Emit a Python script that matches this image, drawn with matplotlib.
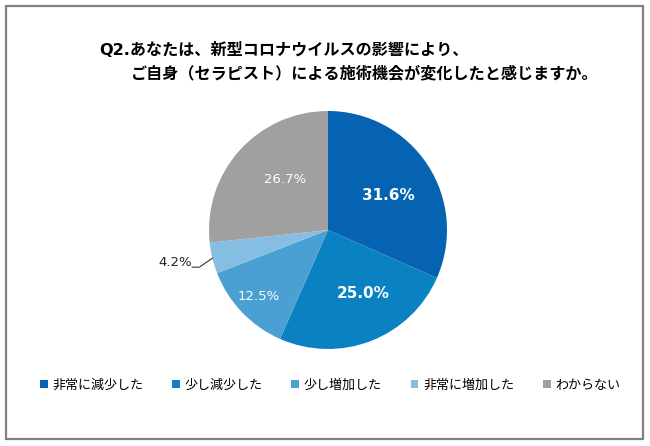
import numpy as np
import matplotlib.pyplot as plt
from matplotlib.patches import Rectangle

plt.rcParams['font.family'] = ['DejaVu Sans', 'Noto Sans CJK JP']

# data
categories = ['非常に減少した', '少し減少した', '少し増加した', '非常に増加した', 'わからない']
values = [31.6, 25.0, 12.5, 4.2, 26.7]
colors = ['#0563b2', '#0a82c2', '#4a9fd3', '#86bee3', '#a0a0a0']
title1 = 'Q2.あなたは、新型コロナウイルスの影響により、'
title2 = 'ご自身（セラピスト）による施術機会が変化したと感じますか。'

W, H = 650, 446
fig = plt.figure(figsize=(6.5, 4.46), dpi=100)

# outer frame
fig.patches.append(Rectangle((5.5 / W, (H - 438.5) / H), 637 / W, 433 / H,
                             transform=fig.transFigure, fill=False,
                             edgecolor='#808080', linewidth=1.6))

# title, two lines with different indent
fig.text(99 / W, 1 - 50 / H, title1, fontsize=11.6, fontweight='bold',
         ha='left', va='center')
fig.text(131 / W, 1 - 73 / H, title2, fontsize=11.6, fontweight='bold',
         ha='left', va='center')

# pie axes: center (328, 230), radius 119 px
cx, cy, r = 328, 230, 119
ax = fig.add_axes([(cx - r) / W, (H - cy - r) / H, 2 * r / W, 2 * r / H])
wedges, _ = ax.pie(values, colors=colors, startangle=90, counterclock=False,
                   radius=1.0, wedgeprops=dict(linewidth=0))
ax.set_xlim(-1, 1)
ax.set_ylim(-1, 1)
ax.axis('off')

# label placement (radius, angle shift) per slice
label_r = [0.58, 0.61, 0.81, None, 0.56]
label_da = [-3.5, 8, 0, 0, -7.5]
label_w = ['bold', 'bold', 'normal', None, 'normal']
label_s = [11, 11, 9.5, None, 9.5]
for i, w in enumerate(wedges):
    ang = np.deg2rad((w.theta1 + w.theta2) / 2 + label_da[i])
    txt = f'{values[i]:.1f}%'
    if label_r[i] is None:
        # small slice: label outside with leader line
        ex, ey = np.cos(ang), np.sin(ang)
        ax.plot([ex, ex - 0.109, ex - 0.168], [ey, ey - 0.076, ey - 0.076],
                color='#333333', lw=0.8, clip_on=False)
        ax.text(ex - 0.175, ey - 0.034, txt, ha='right', va='center',
                fontsize=9.5, color='#222222', clip_on=False)
    else:
        ax.text(label_r[i] * np.cos(ang), label_r[i] * np.sin(ang), txt,
                ha='center', va='center', color='white',
                fontsize=label_s[i], fontweight=label_w[i])

fig.legend(wedges, categories, loc='center', bbox_to_anchor=(0.508, 1 - 385 / H),
           ncol=5, frameon=False, handlelength=0.6,
           handleheight=0.6, handletextpad=0.35, columnspacing=2.2,
           prop={'family': ['Noto Sans CJK JP'], 'size': 9.4})

fig.savefig('out.png', dpi=100, facecolor='white')
